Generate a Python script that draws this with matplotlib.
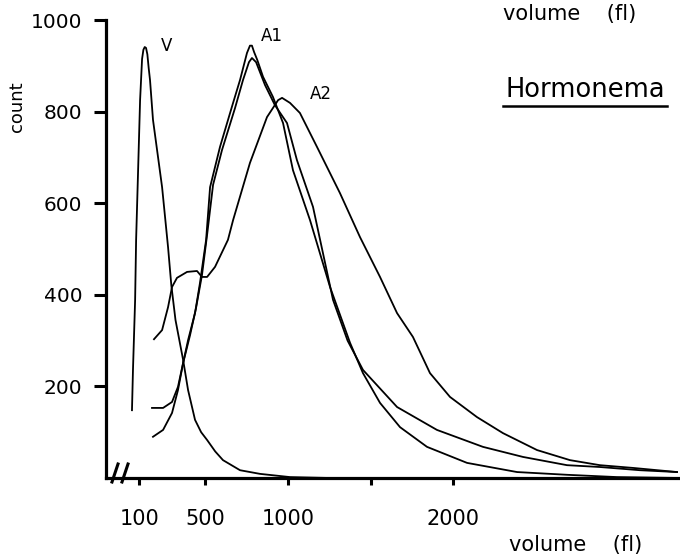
import matplotlib
matplotlib.use('Agg')
from matplotlib import pyplot as plt

# Curve V
V_VOL = [57, 63, 76, 82, 94, 106, 118, 126, 134, 142, 150, 158, 166, 184, 239,
         275, 295, 320, 366, 396, 438, 475, 511, 560, 607, 710, 831, 1012, 1254]
V_CNT = [148, 236, 389, 520, 672, 825, 915, 935, 941, 939, 925, 895, 869, 782,
         635, 504, 420, 345, 258, 192, 127, 100, 83, 58, 39, 17, 9, 2, 0]

# Curve A1 (tail goes to zero)
A1_VOL = [184, 245, 299, 335, 366, 396, 438, 468, 505, 529, 589, 668, 710,
          752, 770, 782, 795, 814, 849, 909, 970, 1030, 1133, 1254, 1375, 1453,
          1556, 1677, 1840, 2082, 2384, 2686, 2988, 3369]
A1_CNT = [90, 105, 142, 192, 251, 301, 360, 426, 520, 635, 723, 819, 869,
          928, 944, 944, 930, 913, 876, 832, 775, 672, 563, 417, 295, 229,
          164, 111, 68, 33, 13, 7, 2, 0]

# Second A1 trace (long tail)
A1B_VOL = [178, 245, 299, 335, 366, 408, 444, 480, 511, 547, 601, 680, 728,
           764, 782, 807, 861, 921, 994, 1054, 1151, 1272, 1360, 1453, 1659,
           1900, 2178, 2420, 2686, 2885, 3127, 3351]
A1B_CNT = [153, 153, 166, 199, 251, 312, 371, 443, 531, 640, 716, 808, 869,
           908, 917, 908, 858, 814, 775, 694, 592, 389, 300, 236, 155,
           105, 68, 46, 28, 24, 17, 13]

# Curve A2
A2_VOL = [190, 239, 275, 299, 329, 390, 450, 480, 511, 559, 637, 668, 770,
          873, 940, 964, 1012, 1072, 1175, 1314, 1435, 1556, 1659, 1755, 1858,
          1979, 2142, 2299, 2505, 2704, 2885, 3085, 3351]
A2_CNT = [303, 323, 373, 417, 437, 450, 452, 439, 439, 461, 520, 563, 688,
          788, 825, 830, 819, 797, 723, 622, 526, 439, 360, 308, 229,
          177, 133, 98, 61, 39, 28, 22, 13]

X_TICKS = [100, 500, 1000, 1500, 2000]
X_LABELS = ['100', '500', '1000', '', '2000']
Y_TICKS = [200, 400, 600, 800, 1000]
Y_LABELS = ['200', '400', '600', '800', '1000']

W, H = 680, 556

fig = plt.figure(figsize=(W / 100, H / 100), dpi=100)
ax = fig.add_axes([106 / W, 78 / H, 574 / W, 458 / H])
ax.set_xlim(-100, 3369)
ax.set_ylim(0, 1000)

for vol, cnt in [(V_VOL, V_CNT), (A1_VOL, A1_CNT),
                 (A1B_VOL, A1B_CNT), (A2_VOL, A2_CNT)]:
    ax.plot(vol, cnt, color='black', lw=1.3, solid_joinstyle='round',
            clip_on=False)

for side in ('top', 'right'):
    ax.spines[side].set_visible(False)
for side in ('left', 'bottom'):
    ax.spines[side].set_linewidth(2.3)

ax.set_yticks(Y_TICKS)
ax.set_yticklabels(Y_LABELS, fontsize=14.5)
ax.tick_params(axis='y', direction='out', length=9, width=2.2, pad=8)

ax.set_xticks(X_TICKS)
ax.set_xticklabels(X_LABELS, fontsize=15)
ax.tick_params(axis='x', direction='out', length=5, width=2.2, pad=17)

# axis break marks
for x0 in (112, 122):
    ax.plot([(x0 - 106) / 574, (x0 + 6 - 106) / 574],
            [-4 / 458, 14 / 458], transform=ax.transAxes,
            color='black', lw=2.2, clip_on=False)

ax.text(269, 943, 'V', fontsize=12, ha='center', va='center')
ax.text(903, 965, 'A1', fontsize=12, ha='center', va='center')
ax.text(1199, 838, 'A2', fontsize=12, ha='center', va='center')

fig.text(17 / W, 1 - 107 / H, 'count', rotation=90, fontsize=13,
         ha='center', va='center')
fig.text(570 / W, 1 - 14 / H, 'volume    (fl)', fontsize=15,
         ha='center', va='center')
fig.text(576 / W, 1 - 545 / H, 'volume    (fl)', fontsize=15,
         ha='center', va='center')
fig.text(585 / W, 1 - 90 / H, 'Hormonema', fontsize=18.5,
         ha='center', va='center')
fig.add_artist(plt.Line2D([503 / W, 667 / W], [1 - 106 / H, 1 - 106 / H],
                          color='black', lw=1.8))

fig.savefig('out.png', dpi=100)
